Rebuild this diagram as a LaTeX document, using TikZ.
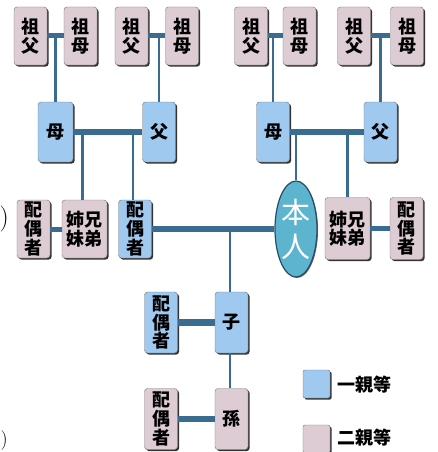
\documentclass[tikz,border=0pt]{standalone}
\usepackage{fontspec}
\newfontfamily\jp{Noto Sans CJK JP}
\usetikzlibrary{shadows,shapes.geometric}
\definecolor{oyablue}{RGB}{160,201,240}
\definecolor{oyapink}{RGB}{222,204,213}
\definecolor{senblue}{RGB}{58,108,145}
\definecolor{honnin}{RGB}{92,180,206}
\tikzset{
  box/.style={rounded corners=3pt, draw=black!55, line width=0.4pt, inner sep=0pt,
    minimum width=33pt, minimum height=58pt, align=center,
    font=\jp\bfseries\fontsize{18}{18.6}\selectfont,
    drop shadow={shadow xshift=1.6pt,shadow yshift=-1.6pt,fill=black!80,opacity=1}},
  ichi/.style={box, fill=oyablue},
  ni/.style={box, fill=oyapink},
  sen/.style={senblue, line width=2.4pt},
  bar/.style={senblue, line width=6.5pt},
}
\begin{document}
\begin{tikzpicture}[x=1pt,y=-1pt]
    \useasboundingbox (0,0) rectangle (437,452);

    % 祖父母
    \node[ni] (gfA) at (30.5,36) {祖\\父};
    \node[ni] (gmA) at (80.5,36) {祖\\母};
    \node[ni] (gfB) at (131.5,36) {祖\\父};
    \node[ni] (gmB) at (182,36) {祖\\母};
    \node[ni] (gfC) at (251,36) {祖\\父};
    \node[ni] (gmC) at (299.5,36) {祖\\母};
    \node[ni] (gfD) at (354,36) {祖\\父};
    \node[ni] (gmD) at (407,36) {祖\\母};

    % 父母
    \node[ichi, minimum width=35pt, minimum height=60pt] (moA) at (55.5,132) {母};
    \node[ichi, minimum width=33pt, minimum height=60pt] (faA) at (159,132) {父};
    \node[ichi, minimum width=33pt, minimum height=60pt] (moB) at (273,132) {母};
    \node[ichi, minimum width=33pt, minimum height=60pt] (faB) at (380.5,132) {父};

    % 本人の世代
    \node[ni] (spsibA) at (33.5,229) {配\\偶\\者};
    \node[ni, minimum width=45pt] (sibA) at (84.5,229) {姉\hspace{0.5pt}兄\\妹\hspace{0.5pt}弟};
    \node[ichi] (spouse) at (135,229) {配\\偶\\者};
    \node[ellipse, fill=honnin, draw=senblue!70!black, line width=1.2pt, inner sep=0pt,
          minimum width=42pt, minimum height=96pt, align=center, text=white,
          font=\jp\fontsize{29}{34}\selectfont,
          drop shadow={shadow xshift=1pt,shadow yshift=-1pt,fill=black!60,opacity=1}] (self) at (296,229) {本\\人};
    \node[ni, minimum width=45pt, minimum height=62pt] (sibB) at (347.5,228.5) {姉\hspace{0.5pt}兄\\妹\hspace{0.5pt}弟};
    \node[ni, minimum height=62pt] (spsibB) at (406.5,228.5) {配\\偶\\者};

    % 子・孫
    \node[ichi, minimum height=61pt] (ko) at (231.5,322.5) {子};
    \node[ichi, minimum height=61pt] (spko) at (161,322.5) {配\\偶\\者};
    \node[ni, minimum height=61pt] (mago) at (231.5,419) {孫};
    \node[ni, minimum height=61pt] (spmago) at (161,419) {配\\偶\\者};

    % 線
    \draw[bar, line width=5pt] (gfA) -- (gmA);
    \draw[bar, line width=5pt] (gfB) -- (gmB);
    \draw[bar, line width=5pt] (gfC) -- (gmC);
    \draw[bar, line width=5pt] (gfD) -- (gmD);
    \draw[sen] (moA.north) -- (moA.north |- gfA.east);
    \draw[sen] (faA.north) -- (faA.north |- gfB.east);
    \draw[sen] (moB.north) -- (moB.north |- gfC.east);
    \draw[sen] (faB.north) -- (faB.north |- gfD.east);

    \draw[bar] (moA) -- (faA);
    \draw[bar] (moB) -- (faB);
    \draw[sen] ([xshift=-2pt]sibA.north) -- ([xshift=-2pt]sibA.north |- moA.east);
    \draw[sen] ([xshift=-2pt]spouse.north) -- ([xshift=-2pt]spouse.north |- moA.east);
    \draw[sen] (self.north) -- (self.north |- moB.east);
    \draw[sen] (sibB.north) -- (sibB.north |- moB.east);

    \draw[bar, line width=5pt] (spsibA) -- (sibA);
    \draw[bar] (spouse) -- (self);
    \draw[bar, line width=5pt] (sibB) -- (spsibB);
    \draw[sen] ([xshift=-1.5pt]ko.north) -- ([xshift=-1.5pt]ko.north |- spouse.east);

    \draw[bar] (spko) -- (ko);
    \draw[sen] ([xshift=-1.5pt]ko.south) -- ([xshift=-1.5pt]mago.north);
    \draw[bar] (spmago) -- (mago);

    % 凡例
    \node[ichi, minimum width=27pt, minimum height=28pt, rounded corners=2pt] (keyA) at (316.5,384) {};
    \node[anchor=west, inner sep=0pt, font=\jp\bfseries\fontsize{18}{20}\selectfont] (keyAtxt) at (337,385) {一親等};
    \node[ni, minimum width=27pt, minimum height=28pt, rounded corners=2pt] (keyB) at (316.5,439) {};
    \node[anchor=west, inner sep=0pt, font=\jp\bfseries\fontsize{18}{20}\selectfont] (keyBtxt) at (337,438) {二親等};

    % 切れた括弧
    \node[anchor=east, inner sep=0pt, font=\fontsize{26}{28}\selectfont] (parA) at (9,219) {)};
    \node[anchor=south east, inner sep=0pt, font=\fontsize{20}{22}\selectfont] (parB) at (8,451) {)};
\end{tikzpicture}
\end{document}
